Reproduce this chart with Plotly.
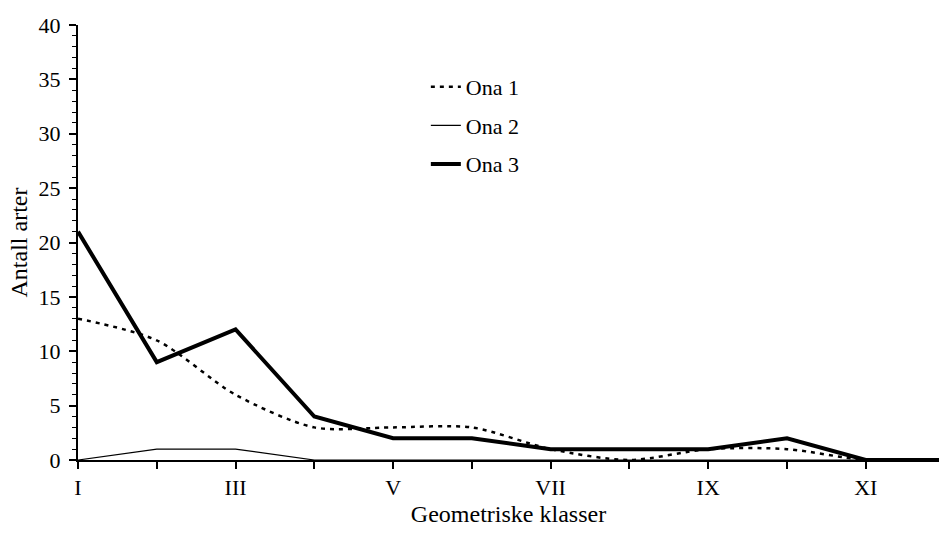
import plotly.graph_objects as go

categories = ["I", "II", "III", "IV", "V", "VI", "VII", "VIII", "IX", "X", "XI", "XII"]
ona1 = [13, 11, 6, 3, 3, 3, 1, 0, 1, 1, 0, 0]
ona2 = [0, 1, 1, 0, 0, 0, 0, 0, 0, 0, 0, 0]
ona3 = [21, 9, 12, 4, 2, 2, 1, 1, 1, 2, 0, 0]
tick_text = ["I", "", "III", "", "V", "", "VII", "", "IX", "", "XI", ""]

FONT = "Liberation Serif, Times New Roman, serif"

fig = go.Figure()
fig.add_trace(go.Scatter(x=categories, y=ona1, name="Ona 1", mode="lines",
                         line=dict(color="black", width=2.5, dash="4px,5px", shape="spline", smoothing=0.8),
                         legendgroup="a"))
fig.add_trace(go.Scatter(x=categories, y=ona2, name="Ona 2", mode="lines",
                         line=dict(color="black", width=1.2),
                         legendgroup="b"))
fig.add_trace(go.Scatter(x=categories, y=ona3, name="Ona 3", mode="lines",
                         line=dict(color="black", width=4),
                         legendgroup="c"))

fig.update_layout(
    width=939, height=533,
    margin=dict(l=78, r=0, t=25, b=73),
    paper_bgcolor="white", plot_bgcolor="white",
    font=dict(family=FONT, size=22, color="black"),
    showlegend=True,
    legend=dict(x=0.404, y=0.906, xanchor="left", yanchor="top",
                font=dict(family=FONT, size=22), tracegroupgap=7,
                bgcolor="rgba(0,0,0,0)"),
    xaxis=dict(
        type="category", categoryorder="array", categoryarray=categories,
        range=[0, 10.93],
        tickvals=categories, ticktext=tick_text,
        ticks="outside", ticklen=7, tickwidth=1.5, tickcolor="black",
        showline=True, linecolor="black", linewidth=2,
        showgrid=False, zeroline=False,
        title=dict(text="Geometriske klasser", font=dict(size=24), standoff=6),
        tickfont=dict(size=22),
    ),
    yaxis=dict(
        range=[0, 40], dtick=5,
        ticks="outside", ticklen=7, tickwidth=1.5, tickcolor="black",
        ticklabelstandoff=4,
        minor=dict(dtick=1, ticks="outside", ticklen=4, tickwidth=1.2, tickcolor="black"),
        showline=True, linecolor="black", linewidth=2,
        showgrid=False, zeroline=False,
        title=dict(text="Antall arter", font=dict(size=24), standoff=4),
        tickfont=dict(size=22),
    ),
)

fig.write_html("out.html")
